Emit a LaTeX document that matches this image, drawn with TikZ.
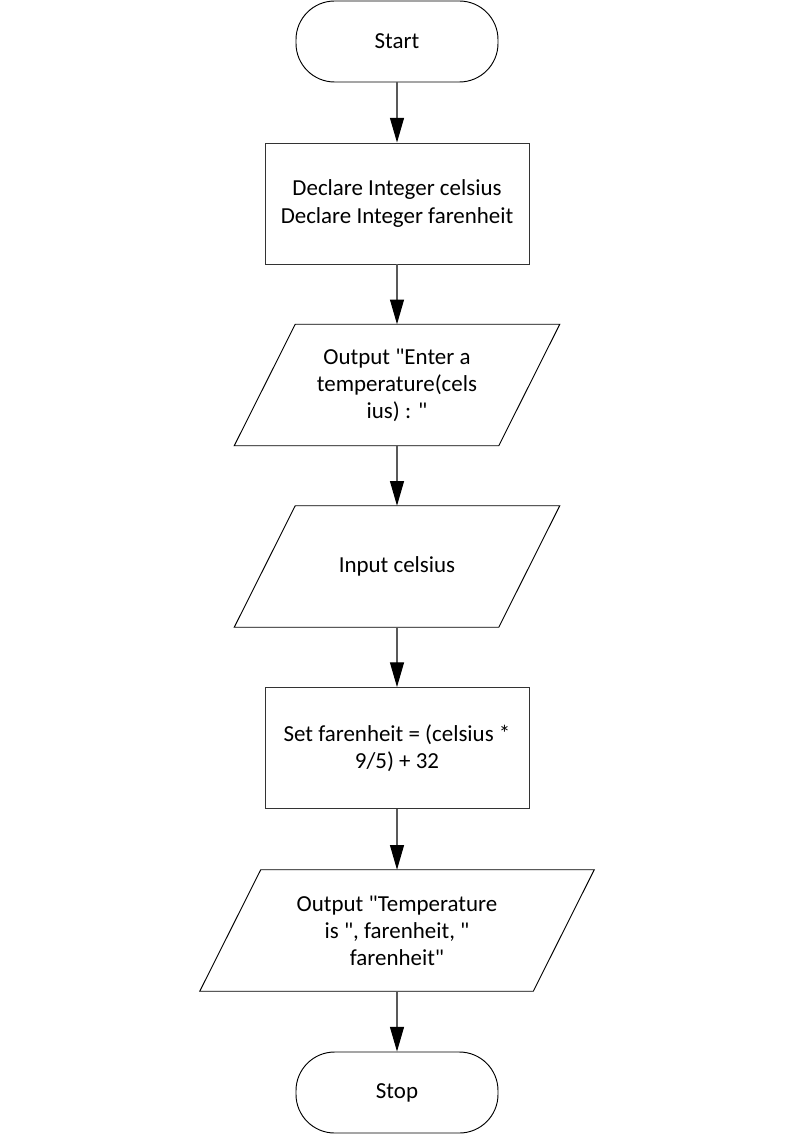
\documentclass[tikz,border=0pt]{standalone}
\usepackage{fontspec}
\setmainfont{Carlito}
\usetikzlibrary{arrows.meta,calc}
\newcommand{\dq}{\textquotedbl}
\begin{document}
\begin{tikzpicture}[x=0.75pt,y=-0.75pt,
  every node/.style={font=\fontsize{17.2}{20.3}\selectfont, align=center, inner sep=0pt},
  term/.style={draw=black, line width=0.7pt, rounded corners=29pt, minimum width=151.5pt, minimum height=60.75pt},
  procbox/.style={draw=black!80, line width=0.7pt, minimum width=198pt, minimum height=90.75pt},
  iobox/.style={minimum width=198pt, minimum height=90.75pt},
  shapeline/.style={draw=black, line width=0.7pt},
  conn/.style={draw=black!65, line width=0.8pt, -{Triangle[length=18.5pt,width=10.5pt,fill=black,color=black]}}]
\useasboundingbox (0,0) rectangle (794,1134);
\node[term] (start) at (397,41.5) {Start};
\node[procbox] (decl) at (397,203.5) {Declare Integer celsius\\Declare Integer farenheit};
\node[iobox] (out1) at (397,385) {Output \dq Enter a\\temperature(cels\\ius) : \dq};
\draw[shapeline] ($(out1.north west)+(30.5,0)$) -- ($(out1.north east)+(30.5,0)$) -- ($(out1.south east)+(-30.5,0)$) -- ($(out1.south west)+(-30.5,0)$) -- cycle;
\node[iobox] (in1) at (397,566.5) {Input celsius};
\draw[shapeline] ($(in1.north west)+(30.5,0)$) -- ($(in1.north east)+(30.5,0)$) -- ($(in1.south east)+(-30.5,0)$) -- ($(in1.south west)+(-30.5,0)$) -- cycle;
\node[procbox] (calc) at (397,748) {Set farenheit = (celsius *\\9/5) + 32};
\node[iobox, minimum width=249.75pt] (out2) at (397,930.5) {Output \dq Temperature\\is \dq, farenheit, \dq\\farenheit\dq};
\draw[shapeline] ($(out2.north west)+(30.5,0)$) -- ($(out2.north east)+(30.5,0)$) -- ($(out2.south east)+(-30.5,0)$) -- ($(out2.south west)+(-30.5,0)$) -- cycle;
\node[term] (stop) at (397,1092.5) {Stop};
\draw[conn] (start) -- (decl);
\draw[conn] (decl) -- (out1);
\draw[conn] (out1) -- (in1);
\draw[conn] (in1) -- (calc);
\draw[conn] (calc) -- (out2);
\draw[conn] (out2) -- (stop);
\end{tikzpicture}
\end{document}
